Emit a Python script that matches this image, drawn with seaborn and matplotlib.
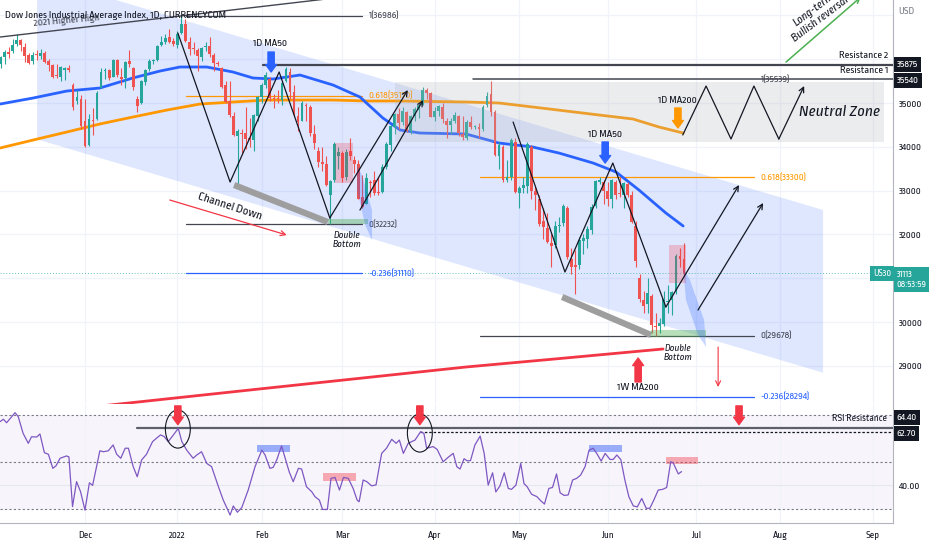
import matplotlib
matplotlib.use("Agg")
import matplotlib.pyplot as plt
from matplotlib import font_manager as fm
from matplotlib.ft2font import FT2Font
from matplotlib.patches import Polygon, Rectangle, Ellipse
import numpy as np
import seaborn as sns

# ---- DATA ---------------------------------------------------------------
# daily bars on weekdays, bar 0 = 1 Dec 2021, first bar = 1 Nov 2021
opens = [35820, 35900, 36040, 36160, 36180, 36340, 36440, 36280, 36100, 35960, 36120,
         36080, 36150, 35960, 35860, 35640, 35600, 35760, 35800, 35400, 35050, 35100,
         34600, 34050, 34620, 34640, 35340, 35720, 35750, 35600, 35980, 35600, 35560, 35950,
         35800, 35100, 35000, 35470, 35770, 35960, 35980, 36320, 36400, 36500, 36420,
         36320, 36600, 36800, 36390, 36250, 36200, 36050, 36280, 36300, 36100, 35920,
         35800, 35400, 35050, 34700, 34250, 34300, 34320, 34200, 34150, 34700,
         35130, 35420, 35550, 35100, 35100, 35080, 35500, 35700, 35250, 34700,
         34600, 34950, 34900, 34300, 33900, 33650, 33600, 32900, 33240, 33800,
         33850, 33300, 33900, 33700, 33600, 32850, 32700, 33200, 33250, 32950, 32960, 33550,
         34050, 34450, 34750, 34560, 34800, 34360, 34700, 34850, 34950, 35300, 35220,
         34680, 34820, 34900, 34600, 34500, 34580, 34700, 34300, 34200, 34560, 34450,
         34460, 34400, 34950, 35200, 34800, 33800, 34000, 33250, 33300, 34100,
         32950, 33050, 33100, 34000, 33000, 32800, 32300, 32150, 31800, 31750, 32200,
         32250, 32600, 31450, 31300, 31300, 31850, 31900, 32100, 32650, 33200, 33200,
         33000, 32800, 33200, 32950, 32900, 33150, 32900, 32200, 31000, 30500,
         30400, 30600, 29900, 29900, 29950, 30450, 30500, 30700, 31500, 31450]
highs = [35990, 36070, 36200, 36270, 36470, 36565, 36460, 36370, 36140, 36160, 36200,
         36230, 36180, 36000, 35900, 35900, 35840, 35830, 35860, 35450, 35300, 35180,
         35100, 34750, 34890, 35270, 35800, 35810, 35780, 36000, 36010, 35800, 35950, 36200,
         35820, 35150, 35520, 35770, 36000, 36010, 36320, 36530, 36570, 36680, 36480,
         36640, 36986, 36920, 36500, 36400, 36250, 36280, 36400, 36500, 36150, 35960,
         35820, 35500, 35500, 34800, 34410, 34400, 34900, 34650, 34750, 35150,
         35450, 35700, 35600, 35200, 35300, 35500, 35820, 35800, 35400, 34900,
         35050, 35000, 34950, 34500, 34000, 34000, 33800, 33250, 34100, 34000,
         33900, 33950, 34200, 33800, 33700, 33350, 33400, 33250, 33450, 33300, 33600, 34100,
         34500, 34770, 34880, 34900, 34820, 34720, 34900, 35000, 35370, 35350, 35250,
         34900, 34950, 35000, 34650, 34650, 34800, 34720, 34700, 34620, 34700, 34500,
         34550, 34950, 35250, 35500, 34850, 34100, 34050, 33700, 34200, 34200,
         33100, 33300, 34100, 34050, 33100, 32900, 32600, 32500, 32000, 32300, 32400,
         32700, 32650, 31700, 31650, 31950, 32000, 32200, 32700, 33250, 33300, 33250,
         33200, 33270, 33250, 33300, 33200, 33200, 33000, 32300, 31100, 30700,
         31000, 30650, 30200, 30100, 30700, 30850, 30700, 31550, 31700, 31800]
lows = [35780, 35800, 35890, 36020, 36150, 36300, 36180, 35930, 35880, 35900, 35990,
        36000, 35910, 35720, 35560, 35570, 35500, 35520, 35700, 34850, 34980, 34400,
        34000, 34020, 34280, 34620, 35340, 35550, 35520, 35590, 35600, 35400, 35350, 35830,
        35300, 34800, 34980, 35400, 35740, 35900, 35960, 36300, 36340, 36380, 36300,
        36250, 36580, 36400, 36100, 36120, 35720, 35950, 36180, 36050, 35730, 35850,
        35340, 35010, 34680, 34250, 33150, 33850, 33960, 34000, 33900, 34600,
        35000, 35350, 35050, 34880, 35000, 34950, 35480, 35100, 34700, 34350,
        34580, 34600, 34250, 33950, 33550, 33450, 33100, 32232, 33200, 33500,
        33200, 33250, 33700, 33400, 32800, 32600, 32700, 32850, 32900, 32900, 32950, 33500,
        33900, 34300, 34400, 34500, 34330, 34300, 34600, 34650, 34950, 35100, 34670,
        34600, 34700, 34550, 34200, 34300, 34550, 34250, 34150, 34150, 34400, 34400,
        34200, 34350, 34900, 34700, 33800, 33500, 33200, 33200, 33250, 32950,
        32600, 32950, 32950, 32800, 32550, 32200, 31900, 31800, 31250, 31700, 32050,
        32200, 31450, 31100, 30650, 31200, 31550, 31700, 32000, 32600, 33150, 32700,
        32650, 32600, 32800, 32850, 32600, 32850, 32250, 31250, 30450, 30200,
        30200, 29750, 29678, 29750, 29900, 30200, 30150, 30650, 31250, 31050]
closes = [35913, 36053, 36158, 36124, 36328, 36432, 36320, 36080, 35921, 36100, 36087,
          36142, 35931, 35871, 35602, 35620, 35814, 35804, 35760, 34899, 35136, 34484,
          34022, 34640, 34580, 35227, 35719, 35754, 35560, 35971, 35650, 35544, 35927, 35898,
          35365, 34932, 35493, 35754, 35950, 35970, 36302, 36398, 36488, 36398, 36338,
          36585, 36800, 36407, 36236, 36231, 36068, 36252, 36290, 36113, 35912, 35900,
          35368, 35029, 34715, 34265, 34365, 34298, 34168, 34160, 34725, 35132,
          35405, 35629, 35111, 35089, 35091, 35463, 35768, 35242, 34738, 34566,
          34989, 34934, 34312, 34079, 33650, 33597, 33132, 33224, 34059, 33893,
          33295, 33891, 33795, 33615, 32818, 32633, 33286, 33174, 32944, 32946, 33545, 34064,
          34481, 34755, 34553, 34808, 34358, 34708, 34862, 34956, 35294, 35229, 34678,
          34818, 34922, 34641, 34497, 34583, 34721, 34308, 34220, 34564, 34451, 34460,
          34411, 34911, 35161, 34793, 33811, 34049, 33240, 33302, 34160, 32977,
          33062, 33129, 34061, 32998, 32899, 32246, 32161, 31834, 31730, 32197, 32223,
          32655, 31490, 31254, 31262, 31880, 31929, 32120, 32637, 33213, 33250, 32990,
          32813, 33248, 32900, 32916, 33180, 32910, 32273, 31393, 30517, 30365,
          30668, 29927, 29889, 29980, 30530, 30484, 30677, 31501, 31439, 31113]

# moving averages (bar index, price)
ma50_bar = [-21.1, -12.9, -4.5, 3.7, 11.9, 18.7, 23.6, 30.3, 36.8, 41.8, 46.8, 53.5, 61.7,
            68.4, 74.1, 78.4, 83.3, 94.8, 103.0, 111.4, 117.9, 126.4, 132.1, 137.8, 144.5, 148.8]
ma50 = [34977, 35114, 35274, 35342, 35571, 35731, 35822, 35822, 35708, 35571, 35548, 35639, 35411,
        35137, 34658, 34384, 34315, 34292, 34087, 33995, 33858, 33630, 33425, 33014, 32489, 32192]
ma200_bar = [-21.1, -12.9, -4.5, 3.7, 11.9, 20.4, 28.6, 36.8, 45.3, 53.5, 61.7, 70.1, 78.4,
             94.8, 103.0, 111.4, 119.7, 127.9, 136.3, 142.8, 148.8]
ma200 = [33973, 34155, 34338, 34521, 34680, 34840, 34977, 35023, 35068, 35068, 35068, 35046, 35046,
         35023, 35000, 34909, 34817, 34726, 34635, 34452, 34315]
wma_bar = [-21.1, 6.2, 44.3, 94.8, 118.2, 143.8]
wma200 = [27830, 28105, 28480, 28973, 29167, 29384]

# RSI
rsi_bar = [-21.1, -20.3, -19.5, -17.4, -16.6, -15.4, -14.1, -13.3, -12.0, -11.2,
           -10.1, -9.1, -8.0, -7.2, -6.2, -4.6, -4.0, -3.1, -2.1, -1.1,
           0.0, 1.1, 1.9, 3.7, 4.6, 5.8, 7.0, 7.9, 8.9, 10.0,
           10.8, 12.0, 13.0, 14.1, 15.3, 16.8, 17.8, 18.8, 19.7, 20.7,
           22.0, 23.2, 24.1, 25.3, 26.9, 27.8, 29.0, 30.3, 31.5, 33.2,
           34.4, 36.1, 36.9, 37.9, 39.0, 40.6, 42.3, 44.0, 44.8, 46.0,
           46.8, 47.7, 48.9, 49.8, 50.8, 51.8, 53.1, 53.9, 55.1, 56.4,
           57.2, 58.3, 59.1, 60.3, 61.2, 62.2, 63.3, 64.3, 65.5, 66.7,
           67.7, 68.2, 69.2, 70.1, 71.3, 72.4, 73.8, 75.0, 76.3, 77.4,
           78.2, 79.2, 80.4, 82.1, 83.5, 84.3, 85.0, 86.6, 87.6, 89.1,
           90.4, 91.6, 92.5, 93.3, 94.3, 95.1, 95.9, 97.0, 98.3, 99.3,
           100.3, 101.4, 102.2, 103.2, 104.3, 105.3, 106.1, 107.2, 108.4, 109.2,
           110.0, 111.1, 112.4, 113.4, 114.3, 115.4, 116.3, 117.3, 118.2, 119.2,
           120.2, 121.3, 122.3, 123.3, 124.4, 125.4, 126.4, 127.3, 128.4, 129.4,
           130.6, 131.4, 132.3, 133.3, 134.3, 135.3, 136.4, 137.4, 138.5, 139.6,
           140.5, 141.5, 142.6, 143.7, 144.7, 145.7, 146.3, 147.6, 148.4]
rsi_val = [67.3, 68.3, 66.8, 71.1, 69.4, 62.3, 58.0, 60.8, 60.7, 62.0,
           54.0, 53.3, 47.3, 48.4, 51.6, 52.6, 52.2, 30.9, 41.6, 37.3,
           29.4, 41.1, 40.0, 54.8, 54.4, 54.8, 57.3, 53.3, 51.6, 55.9,
           55.9, 48.0, 43.7, 50.9, 53.3, 58.7, 60.2, 61.6, 60.9, 58.7,
           61.6, 64.4, 58.7, 55.1, 51.6, 53.0, 54.4, 49.4, 48.0, 39.4,
           33.7, 27.3, 31.2, 28.5, 30.5, 38.0, 48.0, 55.1, 53.0, 47.3,
           47.7, 50.9, 56.9, 51.6, 45.8, 41.6, 47.3, 47.0, 39.4, 37.3,
           35.2, 33.7, 29.7, 29.7, 43.0, 43.4, 38.0, 43.4, 43.0, 38.7,
           33.7, 33.0, 42.3, 41.6, 39.8, 40.2, 53.7, 55.9, 59.7, 58.0,
           59.4, 53.7, 58.0, 59.4, 63.0, 62.3, 55.9, 56.6, 55.4, 50.1,
           52.1, 53.7, 48.0, 47.0, 51.4, 50.5, 50.6, 57.3, 61.1, 53.7,
           40.1, 45.4, 37.2, 39.7, 45.4, 38.7, 38.3, 40.1, 49.4, 40.8,
           39.4, 36.2, 35.2, 33.4, 32.0, 38.7, 39.1, 44.9, 36.8, 35.7,
           35.9, 42.3, 43.0, 44.4, 48.0, 55.1, 55.9, 53.7, 50.4, 53.7,
           51.1, 51.1, 53.0, 51.0, 42.3, 35.1, 31.2, 30.8, 34.4, 30.2,
           30.2, 33.7, 38.0, 38.3, 39.1, 50.1, 49.7, 44.9, 45.9]

month_pos = [0, 23, 44, 64, 87, 108, 130, 152, 173, 196]
month_lbl = ['Dec', '2022', 'Feb', 'Mar', 'Apr', 'May', 'Jun', 'Jul', 'Aug', 'Sep']
price_ticks = [29000, 30000, 32000, 33000, 34000, 35000]
last_price = 31113
res1, res2 = 35540, 35875
rsi_res1, rsi_res2 = 64.4, 62.7
TITLE = 'Dow Jones Industrial Average Index, 1D, CURRENCYCOM'

# ---- STYLE --------------------------------------------------------------
sns.set_theme(style="white")

# the screenshot text is narrow: pick the installed sans face whose width at
# 9 pt is closest to what the title needs (~263 px), then scale to 222 px
best = None
for f in fm.fontManager.ttflist:
    n = f.name
    if f.style != 'normal' or f.weight not in (400, 'normal', 'regular'):
        continue
    if any(k in n for k in ('Mono', 'CJK', 'Display', 'Serif', 'STIX', 'Math')):
        continue
    if not any(k in n for k in ('Sans', 'Roboto', 'Lato', 'Inter', 'Open')):
        continue
    try:
        ft = FT2Font(f.fname)
        ft.set_size(9, 100)
        ft.set_text(TITLE)
        w = ft.get_width_height()[0] / 64
    except Exception:
        continue
    if w > 50 and (best is None or abs(w - 263) < abs(best[0] - 263)):
        best = (w, f)

if best is not None:
    plt.rcParams['font.family'] = [best[1].name, 'DejaVu Sans']
    plt.rcParams['font.stretch'] = best[1].stretch
    FS = float(np.clip(222 / best[0], 0.74, 1.05))
else:
    plt.rcParams['font.family'] = ['DejaVu Sans']
    FS = 0.8

INK = '#131722'
UP, DOWN = '#26a69a', '#ef5350'
BLUE, ORANGE, RED = '#2962ff', '#ff9800', '#f23645'
GRID = '#f0f3fa'

W, H = 932, 550
fig = plt.figure(figsize=(W / 100, H / 100), dpi=100)
ax = fig.add_axes([0, 1 - 404 / H, 893 / W, 404 / H])
rax = fig.add_axes([0, 1 - 523 / H, 893 / W, 118 / H])
XL = (-21.14, 201.0)

# ---- PRICE PANE ---------------------------------------------------------
ax.set_xlim(*XL)
ax.set_ylim(28128, 37352)
for m in month_pos:
    ax.axvline(m, color=GRID, lw=0.9, zorder=0)
for p in range(29000, 37001, 1000):
    ax.axhline(p, color=GRID, lw=0.9, zorder=0)

# channel down
ax.add_patch(Polygon([(-11.9, 37886), (183.6, 32557), (183.6, 28843), (-11.9, 34171)],
                     closed=True, fc=BLUE, alpha=0.15, ec='none', zorder=0.5))
# neutral zone box
ax.add_patch(Rectangle((77.2, 34110), 121.6, 1369, fc='#b2b5be', alpha=0.25, ec='none', zorder=4))

# moving averages (under the candles)
sns.lineplot(x=ma200_bar, y=ma200, ax=ax, color=ORANGE, linewidth=2, zorder=1.8)
sns.lineplot(x=ma50_bar, y=ma50, ax=ax, color=BLUE, linewidth=2, zorder=1.8)
sns.lineplot(x=wma_bar, y=wma200, ax=ax, color=RED, linewidth=2, zorder=1.8)

# candles
o, h, l, c = map(np.array, (opens, highs, lows, closes))
bars = np.arange(-22, -22 + len(c))
col = np.where(c >= o, UP, DOWN)
ax.vlines(bars, l, h, colors=col, lw=0.8, zorder=2)
ax.bar(bars, np.maximum(np.abs(c - o), 15), bottom=np.minimum(o, c), width=0.7,
       color=col, linewidth=0, zorder=2.1)

ax.axhline(last_price, color=UP, lw=0.7, ls=(0, (1, 2)), alpha=0.7, zorder=1)

# 2021 higher high trend line
ax.plot([-22, 70], [36497, 37482], color='#434651', lw=1, zorder=5)
ax.text(-4.5, 36872, '2021 Higher High', rotation=5, ha='center', va='center',
        fontsize=9 * FS, color='#434651', zorder=6)

# resistance lines
ax.plot([44.3, 201], [res2, res2], color='#434651', lw=1.6, zorder=5)
ax.plot([96.5, 201], [res1, res1], color='#434651', lw=1.1, zorder=5)
ax.text(199.8, 36096, 'Resistance 2', ha='right', va='center', fontsize=9 * FS, color=INK)
ax.text(199.8, 35753, 'Resistance 1', ha='right', va='center', fontsize=9 * FS, color=INK)

# fibonacci levels
def fib(x0, x1, y, lbl, color):
    ax.plot([x0, x1], [y, y], color=color, lw=0.9, zorder=1.7)
    ax.text(x1 + 1.5, y, lbl, ha='left', va='center', fontsize=8.5 * FS, color=color, zorder=1.7)

fib(25.1, 68.9, 36986, '1(36986)', '#434651')
fib(25.1, 68.9, 35170, '0.618(35170)', ORANGE)
fib(25.1, 68.9, 32232, '0(32232)', '#434651')
fib(25.1, 68.9, 31110, '-0.236(31110)', BLUE)
ax.text(167.9, 35539, '1(35539)', ha='left', va='center', fontsize=8.5 * FS, color='#434651', zorder=6)
fib(98.3, 166.4, 33300, '0.618(33300)', ORANGE)
fib(98.3, 166.4, 29678, '0(29678)', '#434651')
fib(98.3, 166.4, 28294, '-0.236(28294)', BLUE)

# grey support lines, shaded zones
ax.plot([37.1, 60.4], [33128, 32283], color='#9e9e9e', lw=4.5, solid_capstyle='butt', zorder=4)
ax.plot([118.7, 140.8], [30571, 29704], color='#9e9e9e', lw=4.5, solid_capstyle='butt', zorder=4)
ax.add_patch(Rectangle((60.4, 32238), 10.0, 114, fc='#4caf50', alpha=0.4, ec='none', zorder=4))
ax.add_patch(Rectangle((140.8, 29658), 13.7, 160, fc='#4caf50', alpha=0.4, ec='none', zorder=4))
ax.add_patch(Rectangle((62.2, 33174), 4.5, 913, fc=RED, alpha=0.25, ec='none', zorder=4))
ax.add_patch(Rectangle((145.3, 30891), 4.2, 867, fc=RED, alpha=0.25, ec='none', zorder=4))
ax.add_patch(Polygon([(67.7, 33585), (68.9, 33356), (71.4, 32557), (71.4, 31872), (69.7, 32215), (67.7, 33014)],
                     closed=True, fc=BLUE, alpha=0.25, ec='none', zorder=4))
ax.add_patch(Polygon([(148.8, 31233), (150.5, 30959), (154.0, 30046), (154.5, 29430), (152.5, 29704), (149.5, 30503)],
                     closed=True, fc=BLUE, alpha=0.25, ec='none', zorder=4))

# zigzag projections
def thin_arrow(x0, y0, x1, y1, color=INK, lw=0.9):
    ax.annotate('', xy=(x1, y1), xytext=(x0, y0), annotation_clip=False,
                arrowprops=dict(arrowstyle='->', color=color, lw=lw, shrinkA=0, shrinkB=0,
                                mutation_scale=9), zorder=6)

ax.plot([23.1, 36.1, 48.3, 60.9], [36598, 33196, 35708, 32375], color=INK, lw=0.9, zorder=6)
thin_arrow(60.9, 32375, 80.3, 35297)
thin_arrow(68.4, 32557, 84.1, 35068)
ax.plot([106.5, 119.4, 131.3, 144.5], [34566, 31142, 33630, 30343], color=INK, lw=0.9, zorder=6)
thin_arrow(144.5, 30343, 162.7, 33128)
thin_arrow(152.5, 30274, 168.7, 32717)
ax.plot([148.7, 154.5, 160.7, 166.4, 172.6], [34270, 35388, 34178, 35388, 34178], color=INK, lw=0.9, zorder=6)
thin_arrow(172.6, 34178, 178.9, 35388)
ax.text(187.6, 34795, 'Neutral Zone', ha='center', va='center', fontsize=14 * FS,
        style='italic', color=INK, zorder=6)

thin_arrow(21.1, 32785, 50.2, 31986, color=RED)
ax.text(36.1, 32626, 'Channel Down', rotation=-18, ha='center', va='center', fontsize=10.5 * FS,
        color=INK, zorder=6)
thin_arrow(157.5, 29430, 157.5, 28516, color=RED, lw=0.8)
thin_arrow(174.4, 35936, 193.0, 37420, color='#4caf50', lw=1.1)
ax.text(182.1, 37032, 'Long-term\nBullish reversal', rotation=37, ha='center', va='center',
        multialignment='center', fontsize=10 * FS, style='italic', color=INK, zorder=6)

for x, y in [(65.2, 31872), (147.5, 29292)]:
    ax.text(x, y, 'Double\nBottom', ha='center', va='center', fontsize=8.5 * FS, style='italic',
            color=INK, linespacing=1.0, zorder=6)

def fat_arrow(a, x, y0, y1, color):
    a.annotate('', xy=(x, y1), xytext=(x, y0), annotation_clip=False,
               arrowprops=dict(arrowstyle='simple,head_width=1.3,head_length=0.9,tail_width=0.75',
                               color=color, shrinkA=0, shrinkB=0, mutation_scale=6), zorder=7)

fat_arrow(ax, 46.3, 36164, 35708, BLUE)
ax.text(46.0, 36370, '1D MA50', ha='center', va='center', fontsize=9 * FS, color=INK, zorder=6)
fat_arrow(ax, 129.4, 34110, 33630, BLUE)
ax.text(129.4, 34292, '1D MA50', ha='center', va='center', fontsize=9 * FS, color=INK, zorder=6)
fat_arrow(ax, 147.5, 34886, 34429, ORANGE)
ax.text(147.5, 35068, '1D MA200', ha='center', va='center', fontsize=9 * FS, color=INK, zorder=6)
fat_arrow(ax, 137.6, 28631, 29178, RED)
ax.text(137.6, 28516, '1W MA200', ha='center', va='center', fontsize=9 * FS, color=INK, zorder=6)

# right price scale
def axis_box(a, y, txt, fc, size=8.5):
    a.text(1.004, y, txt, transform=a.get_yaxis_transform(), ha='left', va='center',
           color='white', fontsize=size * FS, linespacing=1.15, clip_on=False, zorder=10,
           bbox=dict(boxstyle='square,pad=0.3', fc=fc, ec='none'))

ax.yaxis.tick_right()
ax.set_yticks(price_ticks)
ax.set_yticklabels([str(p) for p in price_ticks])
ax.tick_params(axis='y', length=0, labelsize=8.5 * FS, labelcolor=INK, pad=4)
ax.set_xticks([])
for s in ['top', 'left', 'bottom']:
    ax.spines[s].set_visible(False)
ax.spines['right'].set_color('#b2b5be')
ax.spines['right'].set_linewidth(0.8)
axis_box(ax, res2, str(res2), INK)
axis_box(ax, res1 - 20, str(res1), INK)
axis_box(ax, 30970, f'{last_price}\n08:53:59', UP, size=8)
ax.text(200.6, last_price, 'US30', ha='right', va='center', color='white', fontsize=8 * FS,
        zorder=10, bbox=dict(boxstyle='square,pad=0.3', fc=UP, ec='none'))

# ---- RSI PANE -----------------------------------------------------------
rax.set_xlim(*XL)
rax.set_ylim(23.9, 74.4)
rax.axhspan(30, 70, color='#7e57c2', alpha=0.06, lw=0, zorder=0)
for m in month_pos:
    rax.axvline(m, color=GRID, lw=0.9, zorder=0)
rax.axhline(40, color='#e6e8ef', lw=0.9, zorder=0.5)
for v in (70, 50, 30):
    rax.axhline(v, color='#787b86', lw=0.8, ls=(0, (2, 2)), zorder=1)

rax.add_patch(Rectangle((42.8, 54.3), 8.2, 3.0, fc='#5b7cfa', alpha=0.6, ec='none', zorder=1.5))
rax.add_patch(Rectangle((125.4, 54.3), 8.2, 3.0, fc='#5b7cfa', alpha=0.6, ec='none', zorder=1.5))
rax.add_patch(Rectangle((59.2, 41.9), 8.2, 3.4, fc=RED, alpha=0.4, ec='none', zorder=1.5))
rax.add_patch(Rectangle((144.5, 49.1), 8.0, 3.0, fc=RED, alpha=0.4, ec='none', zorder=1.5))

sns.lineplot(x=rsi_bar, y=rsi_val, ax=rax, color='#7e57c2', linewidth=0.9, zorder=3)

rax.plot([12.9, 201], [rsi_res1, rsi_res1], color='#5d606b', lw=1.6, zorder=2)
rax.plot([83.3, 201], [rsi_res2, rsi_res2], color=INK, lw=0.9, ls=(0, (2, 1.5)), zorder=2)
rax.text(199.5, 68.8, 'RSI Resistance', ha='right', va='center', fontsize=8.5 * FS, color=INK, zorder=6)

for x, y in [(23.1, 64.1), (83.3, 62.4)]:
    rax.add_patch(Ellipse((x, y), 6.2, 16.3, fill=False, ec=INK, lw=0.8, zorder=5))
for x in (23.1, 83.3, 162.7):
    fat_arrow(rax, x, 74.0, 66.0, RED)

rax.yaxis.tick_right()
rax.set_yticks([40])
rax.set_yticklabels(['40.00'])
rax.tick_params(axis='y', length=0, labelsize=8.5 * FS, labelcolor=INK, pad=4)
rax.set_xticks(month_pos)
rax.set_xticklabels(month_lbl)
rax.tick_params(axis='x', length=0, labelsize=8.5 * FS, labelcolor=INK, pad=6)
rax.get_xticklabels()[1].set_fontweight('bold')
for s in ['top', 'left']:
    rax.spines[s].set_visible(False)
for s in ['right', 'bottom']:
    rax.spines[s].set_color('#b2b5be')
    rax.spines[s].set_linewidth(0.8)
axis_box(rax, 69.0, '64.40', INK)
axis_box(rax, 62.4, '62.70', INK)

# header texts
fig.text(5 / W, 1 - 16 / H, TITLE, fontsize=9 * FS, color=INK, va='center', ha='left')
fig.text(898 / W, 1 - 12 / H, 'USD', fontsize=8.5 * FS, color='#787b86', va='center', ha='left')

fig.savefig('out.png', dpi=100)
